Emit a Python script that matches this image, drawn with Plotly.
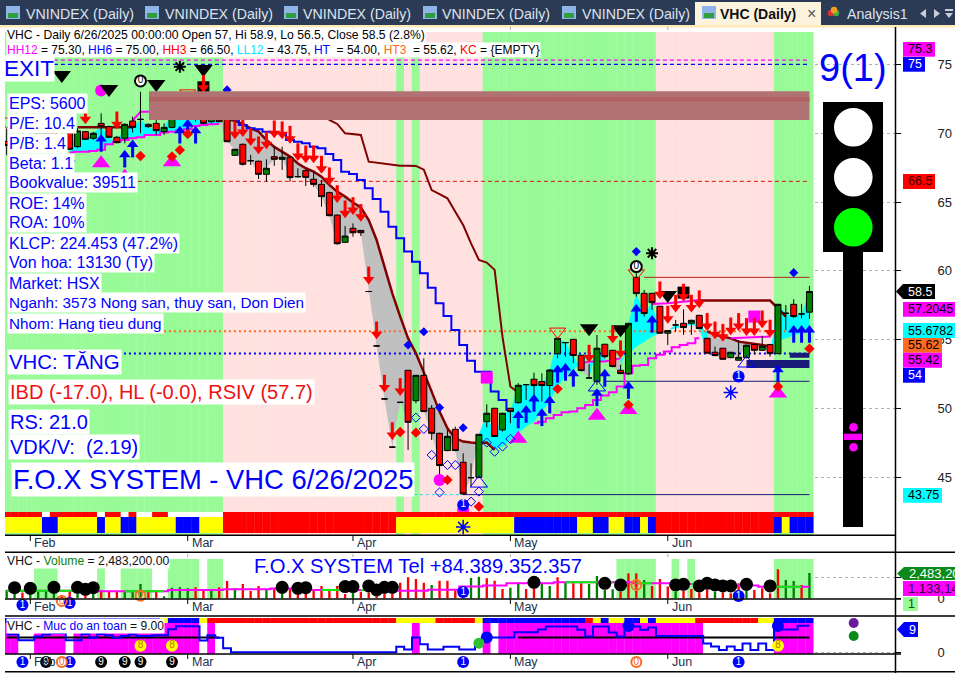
import plotly.graph_objects as go

W, H = 955, 673
def X(px): return px / W
def Y(py): return 1 - py / H

# ---------- data ----------
opens = [69.4,69.2,69.7,69.3,69.5,69.6,70.3,69.9,70.04,69.02,70.11,69.63,70.71,70.47,69.7,69.63,70.88,71.0,70.64,70.71,70.11,70.42,71.44,72.31,72.31,72.1,70.83,71.15,
 71.0,68.39,69.19,68.0,67.96,67.01,68.29,68.1,68.25,66.84,67.28,66.65,66.28,65.68,64.05,62.07,63.09,62.94,58.5,54.55,50.7,47.2,50.45,52.78,50.57,52.41,50.02,48.2,46.95,48.49,46.1,44.98,45.0,
 49.05,50.02,48.45,50.02,50.43,51.74,52.13,51.96,51.67,53.99,54.79,55.03,53.87,52.22,51.96,54.67,54.23,52.78,52.52,59.53,58.37,58.37,57.43,55.47,56.07,56.19,56.19,56.77,55.1,54.09,54.38,53.7,53.51,53.7,54.65,54.23,54.65,53.99,56.92,57.57,56.87,57.0]
highs = [70.3,69.9,70.1,70.0,70.4,70.5,70.6,70.2,70.11,70.35,70.15,70.1,71.44,70.55,69.8,70.71,71.2,73.0,70.7,70.96,70.71,71.93,72.29,72.53,72.41,72.15,71.44,71.2,
 71.1,68.85,69.25,68.42,68.0,68.1,69.02,69.02,68.3,67.45,67.35,67.2,66.6,65.75,64.1,63.26,63.45,62.95,58.55,54.6,50.75,47.25,50.5,52.8,52.45,53.65,50.26,48.25,48.44,48.69,46.75,46.02,48.15,
 50.31,50.05,49.7,50.05,51.84,51.78,52.61,52.56,52.85,55.15,54.82,55.05,53.9,53.22,55.35,54.7,54.25,53.17,56.2,59.94,58.61,58.4,57.45,55.7,56.44,57.21,56.45,56.8,55.15,54.5,54.4,54.1,54.98,54.65,54.7,55.27,54.7,57.6,57.52,57.94,57.6,58.9]
lows = [68.4,68.9,69.0,69.0,69.3,69.4,69.4,69.1,68.78,68.9,69.5,69.5,69.63,69.65,69.26,69.26,70.04,69.99,70.4,69.87,69.87,70.35,71.2,72.1,70.83,70.65,70.71,70.8,
 69.35,68.35,67.64,67.69,66.67,66.48,67.62,67.33,66.48,66.77,66.16,66.11,64.66,63.95,61.9,62.05,62.48,62.53,58.45,54.5,50.65,47.15,50.4,46.99,50.38,49.75,47.72,45.06,46.9,46.9,43.75,44.33,44.93,
 48.64,47.95,48.33,48.93,50.34,50.63,50.51,50.51,50.87,53.65,53.77,53.29,52.7,52.2,51.72,53.65,53.0,52.5,52.44,58.13,56.68,57.16,55.45,54.62,55.59,55.35,55.35,55.75,54.0,53.8,53.53,53.65,53.5,53.65,53.94,54.2,53.77,53.95,55.71,56.56,56.56,56.5]
closes = [69.1,69.7,69.3,69.8,70.1,70.2,69.6,69.4,68.83,70.16,69.55,69.99,70.47,69.7,69.31,70.64,70.42,71.0,70.47,70.18,70.42,71.44,71.93,72.31,72.1,70.71,71.15,70.83,
 69.38,68.83,67.74,68.0,67.01,67.45,68.1,68.25,66.77,66.84,66.79,66.28,65.39,64.01,61.97,62.53,62.77,62.77,58.5,54.55,50.7,47.2,50.45,49.0,52.41,49.78,48.2,45.86,47.98,46.95,43.8,44.98,48.13,
 49.66,47.97,49.66,49.78,51.69,51.74,51.67,51.67,52.8,55.1,54.79,53.85,52.76,52.22,54.38,53.77,53.05,52.54,56.19,58.35,56.9,57.69,55.47,55.66,56.07,55.88,56.41,55.81,54.02,53.85,53.58,54.09,53.73,54.6,54.23,54.52,53.99,57.57,56.92,56.68,56.87,58.5]
volumes_k = [818,490,556,490,654,719,654,327,654,490,327,490,818,654,654,719,719,1406,654,752,100,1046,1079,981,1079,752,752,1079,1700,981,1406,719,1210,883,981,818,948,490,490,818,1210,916,1210,425,556,654,556,164,490,490,1537,2060,1897,1537,1308,1733,1733,818,1145,1995,2126,1962,1733,916,1046,1570,916,981,1472,1210,2060,1570,1472,1472,1406,2191,818,883,654,2453,2453,1799,1210,1897,1145,654,752,916,556,818,654,556,490,1472,818,818,981,490,2845,1799,1701,1308,2483.2]
vol_colors = list("ggrgggg" "rrgrgrrrgggrrgggg" "rrgrrgrrrgrgrrrrrrrrg" "rrrrrr" "rrrgrrrrggrrrggrrggrgrrggggrrrg" "rrrgrrrrgrrrgrrrrggrgrgrrrrgr")
avg_vol_k = [752,752,752,752,752,752,752,752,752,752,752,752,687,687,687,687,687,687,687,687,687,818,818,818,818,818,818,818,883,883,883,883,883,883,950,950,950,950,950,818,818,818,818,818,818,818,818,818,818,818,752,752,752,752,850,850,850,850,1145,1145,1145,1250,1250,1250,1472,1472,1472,1472,1472,1472,1570,1570,1570,1570,1570,1570,1570,1570,1570,1570,1472,1472,1472,1472,1472,1400,1400,1400,1400,1400,1400,1250,1250,1250,1250,1250,1133,1133,1133,1133,1133,1133,1133]
avg_green_runs = [(0,11),(15,20),(40,43),(45,46),(71,75),(76,77),(80,82),(85,86),(87,88),(97,101)]
safety = [6,6,4.1,4.1,5.3,6,6.5,6.5,4.1,4.1,6.2,4.9,6.2,5.8,4.9,5.5,6,5.5,5.5,5.8,5.8,7.8,8.8,8.8,8.8,4,5.8,4.9,1.4,0,0,0,0,0,0,0,0,0,0,0,0,0,0,0,0,0,0,0,0,0,1.85,.95,5,2.75,.95,.95,1.85,1.85,.95,.95,3,5,5,5,5,6.8,6.8,6.8,7.7,8.7,8.7,8.7,8.7,7.6,5.3,8.7,8.7,6.7,5.3,8.7,8.7,7.6,8.4,5.5,5.5,5.5,5.5,5.5,5.5,3,2,.8,2,.8,3,.8,3,.8,7.7,7.7,7.7,9,9]

fast_start = 8
fast = [68.6,68.65,68.65,68.7,68.8,69.2,69.38,69.5,69.63,69.7,69.87,69.87,70.04,70.11,70.18,70.28,70.52,70.6,70.64,70.67,71.0,70.9,70.67,70.35,70.11,69.5,69.0,68.66,68.3,67.8,67.45,67.2,66.84,66.24,65.75,65.39,64.96,64.6,63.69,62.24,60.3,58.37,56.67,55.1,54.01,52.68,51.23,49.78,48.57,47.84,47.6,47.53,47.48,47.53,47.0,47.24,47.72,48.21,48.69,49.05,49.78,50.51,51.6,52.32,52.81,53.29,53.41,53.41,53.41,53.53,53.65,53.9,54.5,54.86,55.23,55.47,55.71,55.83,55.95,56.07,55.95,55.6,55.35,55.23,55.1,54.86,54.79,54.74,54.62,54.5,54.9,55.1,55.3,55.5,55.68]
slow_a_start = 39
slow_a = [72.5,71.8,70.96,70.67,69.99,69.92,69.87,67.93,67.86,67.76,67.69,67.64,67.64,67.62,67.35,65.87,65.58,65.27,64.3,63.33,62.0,60.79,60.6,60.07,55.2,51.6,51.15]
slow_b_start = 88
slow_b = [57.84,57.84,57.84,57.84,57.84,57.84,57.84,57.84,57.84,57.84,57.28,56.68]
slow_c_start = 82
slow_c = [57.6,57.6,57.65,57.7,57.75,57.8,57.88]
mag2_start = 67
mag2 = [48.93,49.05,49.3,49.54,49.73,49.78,50.02,50.26,50.63,50.94,51.18,51.6,52.56,53.1,53.17,53.65,53.9,54.14,54.45,54.62,54.74,55.1]
mag3_start = 92
mag3 = [55.1,55.12,55.15,55.18,55.2,55.23]
mid_start = 9
mid = [70.42]*8
mid_mag_start = 16
mid_mag = [70.9,71.56,71.56,71.56]
blue_start = 29
blue_step = [71.0,70.6,70.35,70.28,70.11,70.05,69.99,69.5,69.38,69.26,69.02,68.9,68.49,68.05,67.2,67.04,66.6,65.99,65.22,64.3,63.21,62.37,61.4,60.67,59.82,58.78,57.64,56.72,55.7,54.62,53.48,52.68,52.68,51.23,50.62,49.9]

regime_runs = [("g",28),("p",22),("g",1),("p",1),("g",1),("p",8),("g",22),("p",15),("g",5)]
strip_top_runs = [("r",5),("w",1),("r",6),("w",1),("r",2),("w",1),("r",1),("w",2),("r",2),("w",7),("r",75)]
strip_bot_runs = [("y",5),("b",2),("y",5),("b",1),("y",2),("b",2),("y",5),("b",3),("y",3),("r",22),("y",15),("b",8),("y",2),("b",2),("y",2),("b",2),("y",1),("b",1),("r",15),("b",1),("y",1),("b",3)]
safety_strip_runs = [("b",20),("y",1),("b",4),("y",1),("r",24),("y",5),("r",5),("y",1),("b",13),("r",1),("y",1),("b",1),("y",2),("b",2),("y",1),("b",1),("y",5),("r",8),("y",2),("b",5)]
safety_bg_runs = [("m",2),("w",2),("m",4),("w",1),("m",16),("w",1),("m",1),("w",25),("m",1),("w",8),("m",1),("w",1),("m",26),("w",9),("m",5)]
vol_bg_runs = [("w",4),("g",3),("w",5),("g",1),("w",2),("g",4),("w",2),("g",4),("w",1),("g",2),("w",50),("g",5),("w",2),("g",1),("w",1),("g",1),("w",10),("g",5)]

dn_idx = [10,14,25,29,30,31,32,33,34,35,36,37,38,39,40,41,42,43,44,45,46,47,48,49,50,74,77,78,83,84,85,86,87,88,89,90,91,92,93,94,95,96,97]
dn_tip = [70.71,70.35,73.0,69.63,69.8,69.14,68.54,68.9,69.7,69.63,69.31,68.05,67.88,67.88,67.13,66.29,65.0,63.89,64.13,63.63,59.09,55.1,51.23,47.79,50.99,53.41,54.79,53.73,58.01,56.24,57.04,57.84,57.04,57.36,55.71,55.1,54.93,55.39,55.71,55.35,55.35,55.9,55.23]
up_idx = [8,12,15,16,22,23,24,65,66,67,68,69,70,71,72,75,76,79,80,82,98,100,101,102]
up_tip = [68.42,69.87,68.73,69.46,70.47,70.96,70.47,49.78,50.19,50.99,49.95,50.87,53.1,53.24,52.81,51.4,52.81,51.93,57.52,56.73,53.1,56.0,56.0,56.0]
blk_tri_idx = [7,13,19,25,74,78,84]
blk_tri_y = [74.22,73.2,73.57,74.66,55.83,55.76,58.25]
blk_sq_idx = [25,86]
blk_sq_y = [73.33,58.42]
mag_dot_idx = [12,55,58]
mag_dot_y = [73.09,44.82,42.64]
mag_sq_idx = [61,95]
mag_sq_y = [52.25,56.68]
mag_tri_idx = [12,21,65,75,79,98,15]
mag_tri_y = [67.81,67.88,47.8,49.47,49.9,51.1,66.84]
red_d_idx = [17,21,22,23,50,52,56,60,59,70,79,98,102]
red_d_y = [68.34,68.3,68.78,69.94,48.3,48.25,44.82,42.88,42.15,51.43,50.27,51.6,54.35]
blue_d_idx = [28,51,53,55,58,80,100]
blue_d_y = [73.14,54.62,55.58,50.07,48.61,61.4,59.87]
open_d_idx = [52,53,54,56,57,55,59,60,61,62,63,64]
open_d_y = [49.34,48.52,46.63,45.9,45.9,43.91,43.24,43.97,47.53,46.87,47.24,47.79]
star_idx = [22,82]
star_y = [74.83,61.28]
zero_idx = [17,80]
zero_y = [73.79,60.31]
red_open_idx = [70,80,23,0]
red_open_y = [55.59,59.82,72.89,70.84]
blue_open_idx = [75,94,60]
blue_open_y = [51.55,53.29,44.57]
one_idx = [58,93]
one_y = [43.0,52.32]
snow_idx = [92]
snow_y = [51.16]

vdot_idx = [1,3,6,9,10,11,35,37,38,43,44,46,47,48,49,67,76,78,85,86,88,89,90,91,92,94,97]
vdot_lvl = [1046,981,1079,1079,883,1046,1079,981,1046,1145,1145,1210,818,1079,1079,1570,1472,1308,1308,1373,1210,1472,1308,1210,1210,1373,1210]
v_one_idx = [2,8,58,93]
v_zero_idx = [7,17,80]
s_one_idx = [2,8,58,93]
s_zero_idx = [7,80]
s_nine_idx = [5,12,15,17,21]
s_eight_idx = [17,21,98]
s_blue_idx = [61,79,98]
s_blue_y = [5,8.9,8.9]
s_green_idx = [60]
s_green_y = [3.1]
eight_row = 2.2
strip_snow_idx = [58]

month_names = ["Feb","Mar","Apr","May","Jun"]
month_idx = [3,23,44,64,84]
price_ticks = [45,50,55,60,65,70,75]

HH12, HH6, HH3, LL12, HT = 75.3, 75.0, 66.5, 43.75, 54.0
HT3, UP_LEVEL, DN_LEVEL = 55.62, 59.53, 51.98

# ---------- scales ----------
BAR0, STEP = 6.7, 7.87
n = len(closes)
idx = list(range(n))
def ix(px): return (px - BAR0) / STEP
PR_TOP, PR_BOT = 75 + (64.3 - 32) * .07262, 75 - (535 - 64.3) * .07262
VOL_TOP, VOL_BOT = 4515, -70
SF_TOP, SF_BOT = 12.26, -0.57

def expand(runs, pal): return [pal[c] for c, k in runs for _ in range(k)]

GREEN, PINK = "#98FB98", "#FFE2DF"
RED, BLUE, YEL, MAG, CYAN = "#FF0000", "#0000FF", "#FFFF00", "#FF00FF", "#00FFFF"
DRED, NAVY = "#800000", "#1A1A7A"
pal = dict(g=GREEN, p=PINK, r=RED, w="#FFFFFF", y=YEL, b=BLUE, m=MAG)

fig = go.Figure()
common = dict(hoverinfo="skip", showlegend=False)

def bars(y, base, color, yaxis, width=1.04, x=None):
    fig.add_trace(go.Bar(x=x if x is not None else idx, y=y, base=base, width=width,
                         marker=dict(color=color, line=dict(width=0)), yaxis=yaxis, **common))

def line(x, y, color, w=2, yaxis="y", shape="linear", dash=None):
    fig.add_trace(go.Scatter(x=x, y=y, mode="lines", yaxis=yaxis,
                             line=dict(color=color, width=w, shape=shape, dash=dash), **common))

def marks(x, y, sym, size, color, yaxis="y3", lw=0, lc=None, text=None, tc="white", ts=10):
    fig.add_trace(go.Scatter(x=x, y=y, mode="markers+text" if text else "markers", yaxis=yaxis,
                             marker=dict(symbol=sym, size=size, color=color, line=dict(width=lw, color=lc or color)),
                             text=[text] * len(x) if text else None, textposition="middle center",
                             textfont=dict(color=tc, size=ts, family="Liberation Sans"), **common))

# background bands
bars([PR_TOP - PR_BOT] * n, [PR_BOT] * n, expand(regime_runs, pal), "y")

# color strips
bars([16 / 21] * n, [0] * n, expand(strip_bot_runs, pal), "y4")
bars([5 / 21] * n, [16 / 21] * n, expand(strip_top_runs, pal), "y4")

# gray / cyan fills between close and the fast line
def fill(a, b, color):
    xs = list(range(a, b + 1))
    up = [closes[i] for i in xs]
    lo = [fast[i - fast_start] for i in xs]
    fig.add_trace(go.Scatter(x=xs + xs[::-1], y=up + lo[::-1], mode="lines", fill="toself",
                             fillcolor=color, line=dict(width=0), yaxis="y", **common))
for a, b in [(8,27),(60,73),(74,76),(78,89),(97,102)]:
    fill(a, b, CYAN)
for a, b in [(27,60),(73,74),(76,78),(89,97)]:
    fill(a, b, "#C0C0C0")

# level lines
rng = [6, 102]
line(rng, [HH12, HH12], MAG, 1.2, dash="4px,3px")
line(rng, [HH6, HH6], BLUE, 1.2, dash="4px,3px")
line(rng, [HH3, HH3], "#E01010", 1, dash="4px,3px")
line(rng, [HT3, HT3], "#FF6A20", 2, dash="2px,3px")
line(rng, [HT, HT], BLUE, 2, dash="2px,3px")
line([6, 58], [LL12, LL12], "#30D8E8", 1, dash="3px,3px")
line([58, 102], [LL12, LL12], NAVY, 1)
line([81, 102], [UP_LEVEL, UP_LEVEL], "#B22222", 1)
line([76, 102], [DN_LEVEL, DN_LEVEL], NAVY, 1)
line([99.5, 102], [53.87, 53.87], NAVY, 5)
line([94, 102], [53.24, 53.24], NAVY, 8)

# moving lines
fx = list(range(fast_start, n))
line(fx[:20], fast[:20], MAG, 2, shape="hvh")
line(fx[20:55], fast[20:55], DRED, 2.5)
line(fx[65:71], fast[65:71], MAG, 2)
line(fx[81:90], fast[81:90], DRED, 2.5)
line(list(range(mag2_start, mag2_start + len(mag2))), mag2, MAG, 2, shape="hvh")
line(list(range(mag3_start, mag3_start + len(mag3))), mag3, MAG, 2)
line(list(range(slow_a_start, slow_a_start + len(slow_a))), slow_a, DRED, 2)
line(list(range(slow_b_start, slow_b_start + len(slow_b))), slow_b, DRED, 2.5)
line(list(range(slow_c_start, slow_c_start + len(slow_c))), slow_c, MAG, 2)
line(list(range(mid_start, mid_start + len(mid))), mid, DRED, 2.5)
line(list(range(mid_mag_start, mid_mag_start + len(mid_mag))), mid_mag, MAG, 2)
line(list(range(blue_start, blue_start + len(blue_step))), blue_step, BLUE, 2, shape="hvh")

# candles
fig.add_trace(go.Candlestick(x=idx, open=opens, high=highs, low=lows, close=closes, yaxis="y2", whiskerwidth=0,
    increasing=dict(line=dict(color="black", width=1), fillcolor="#008000"),
    decreasing=dict(line=dict(color="black", width=1), fillcolor=RED), hoverinfo="skip", showlegend=False))

# signals drawn under the arrows
marks(blk_sq_idx, blk_sq_y, "square", 12, "black")
marks(mag_tri_idx, mag_tri_y, "triangle-up", 16, MAG)
marks(mag_dot_idx, mag_dot_y, "circle", 12, MAG)
marks(mag_sq_idx, mag_sq_y, "square", 12, MAG)
marks(blk_tri_idx, blk_tri_y, "triangle-down", 16, "black")
# arrows
PP = .07262
marks(dn_idx, [p + 4 * PP for p in dn_tip], "triangle-down", 10, RED)
marks(dn_idx, [p + 10.5 * PP for p in dn_tip], "line-ns", 9, RED, lw=3, lc=RED)
marks(up_idx, [p - 4 * PP for p in up_tip], "triangle-up", 10, BLUE)
marks(up_idx, [p - 10.5 * PP for p in up_tip], "line-ns", 9, BLUE, lw=3, lc=BLUE)
marks(red_d_idx, red_d_y, "diamond", 8, RED)
marks(blue_d_idx, blue_d_y, "diamond", 7, BLUE)
marks(open_d_idx, open_d_y, "diamond-open", 7, BLUE, lw=1)
marks(star_idx, star_y, "asterisk-open", 10, "black", lw=2)
marks(red_open_idx, red_open_y, "triangle-down-open", 14, RED, lw=1)
marks(blue_open_idx, blue_open_y, "triangle-up-open", 15, BLUE, lw=1)
marks(zero_idx, zero_y, "circle", 11, "white", lw=2, lc="black", text="0", tc="black")
marks(one_idx, one_y, "circle", 12, BLUE, text="1")
marks(snow_idx, snow_y, "asterisk-open", 12, BLUE, lw=1.5)

# volume panel
bars([VOL_TOP * .855] * n, [0] * n, expand(vol_bg_runs, pal), "y5")
bars(volumes_k, [0] * n, ["#008000" if c == "g" else RED for c in vol_colors], "y5", width=.3)
line(idx, avg_vol_k, MAG, 2, yaxis="y5", shape="hvh")
for a, b in avg_green_runs:
    line(list(range(a, b + 1)), avg_vol_k[a:b + 1], "#00F000", 2, yaxis="y5", shape="hvh")
marks(vdot_idx, vdot_lvl, "circle", 13, "black", yaxis="y5")

# safety panel
bars([9.9 - SF_BOT] * n, [SF_BOT] * n, expand(safety_bg_runs, pal), "y6")
bars([1.69] * n, [9.9] * n, expand(safety_strip_runs, pal), "y6")
line([0, 27], [5, 5], "black", 2, yaxis="y6")
line([65, 102], [5, 5], "black", 2, yaxis="y6")
line(idx, safety, BLUE, 2, yaxis="y6", shape="hvh")
marks(s_blue_idx, s_blue_y, "circle", 12, BLUE, yaxis="y6")
marks(s_green_idx, s_green_y, "circle", 11, "#30C030", yaxis="y6")
marks(s_eight_idx, [eight_row] * len(s_eight_idx), "circle", 12, YEL, yaxis="y6", text="8", tc="#C07000")

# event badges on the page-wide row axis (y7 counts pixel rows down the window)
ROW_VOL_ONE = [605, 603, 592, 596]
ROW_VOL_ZERO = [601, 595.7, 585]
ROW_LABELS, ROW_STRIP = 662, 527
marks(v_one_idx, ROW_VOL_ONE, "circle", 12, BLUE, yaxis="y7", text="1")
marks(v_zero_idx, ROW_VOL_ZERO, "circle", 10, "rgba(255,255,255,0)", yaxis="y7", lw=2, lc="#FF6A20", text="0", tc="#FF6A20")
marks(s_nine_idx, [ROW_LABELS] * len(s_nine_idx), "circle", 12, "black", yaxis="y7", text="9")
marks(s_one_idx, [ROW_LABELS] * len(s_one_idx), "circle", 12, BLUE, yaxis="y7", text="1")
marks(s_zero_idx, [ROW_LABELS] * len(s_zero_idx), "circle", 10, "white", yaxis="y7", lw=2, lc="#FF6A20", text="0", tc="#FF6A20")
marks(strip_snow_idx, [ROW_STRIP], "asterisk-open", 12, BLUE, yaxis="y7", lw=1.5)

# ---------- decoration ----------
shapes, ann = [], []
def rect(x0, y0, x1, y1, fill, layer="above"):
    shapes.append(dict(type="rect", xref="paper", yref="paper", x0=X(x0), x1=X(x1), y0=Y(y0), y1=Y(y1),
                       fillcolor=fill, line=dict(width=0), layer=layer))
def circ(cx, cy, r, fill):
    shapes.append(dict(type="circle", xref="paper", yref="paper", x0=X(cx - r), x1=X(cx + r), y0=Y(cy - r), y1=Y(cy + r),
                       fillcolor=fill, line=dict(width=0), layer="above"))
def hl(x0, x1, y, c="black", w=1.5):
    shapes.append(dict(type="line", xref="paper", yref="paper", x0=X(x0), x1=X(x1), y0=Y(y), y1=Y(y), line=dict(color=c, width=w), layer="above"))
def poly(pts, fill):
    d = "M" + " L".join(f"{X(a):.5f},{Y(b):.5f}" for a, b in pts) + " Z"
    shapes.append(dict(type="path", xref="paper", yref="paper", path=d, fillcolor=fill, line=dict(width=0), layer="above"))
def txt(x, y, s, size=16, color=BLUE, bg=None, anchor="left", bold=False, pad=0):
    ann.append(dict(xref="paper", yref="paper", x=X(x), y=Y(y), text=f"<b>{s}</b>" if bold else s, showarrow=False,
                    xanchor=anchor, yanchor="middle", align="left", bgcolor=bg, borderpad=pad,
                    font=dict(family="Liberation Sans", size=size, color=color)))

# tab bar
rect(0, 0, 955, 25, "#2B3A55")
rect(0, 25, 955, 27.5, "#FFE9B4")
rect(695, 2, 821, 25, "#FBF3DC")
for x0, x1 in [(145, 159), (284, 298), (423, 437), (562, 576), (702, 716), (6, 20)]:
    rect(x0, 6, x1, 19, "#8FB4E8")
    rect(x0 + 2, 13, x1 - 2, 18, "#2E9E3E")
for xt in [25, 164, 302, 441, 581]:
    txt(xt, 14, "VNINDEX (Daily)", 14.2, "#DDE3EE")
txt(719, 14, "VHC (Daily)", 14, "#101010", bold=True)
txt(811, 13, "×", 16, "#555555", anchor="center")
for cx, c in [(831, "#E03030"), (836, "#40B040"), (834, "#F0A020")]:
    circ(cx, 13 if c != "#F0A020" else 10, 3.2, c)
txt(846, 14, "Analysis1", 14.2, "#DDE3EE")
poly([(926, 9), (926, 18), (920, 13.5)], "#C8CEDA")
poly([(934, 9), (934, 18), (940, 13.5)], "#C8CEDA")
rect(945, 9, 953, 11, "#C8CEDA")
poly([(945, 13), (953, 13), (949, 18)], "#C8CEDA")

# resistance band
shapes.append(dict(type="rect", xref="x", yref="y", x0=ix(149), x1=102, y0=70.95, y1=73.05, fillcolor="#B07272", line=dict(width=0), layer="above"))
shapes.append(dict(type="rect", xref="x", yref="y", x0=ix(149), x1=102, y0=72.3, y1=72.62, fillcolor="#B06060", line=dict(width=0), layer="above"))

# panel frame
for y, x1 in [(535.3, 895), (552.3, 955), (599, 901), (616, 955), (654, 901), (671.7, 955)]:
    hl(5, x1, y)
shapes.append(dict(type="line", xref="paper", yref="paper", x0=X(895.5), x1=X(895.5), y0=Y(27), y1=Y(673), line=dict(color="black", width=1.5), layer="above"))

# month ticks and labels
for m, i in zip(month_names, month_idx):
    for y0, y1, yl in [(535.3, 541, 543), (599, 604, 607), (654, 659, 662)]:
        shapes.append(dict(type="line", xref="x", yref="paper", x0=i, x1=i, y0=Y(y0), y1=Y(y1), line=dict(color="black", width=1), layer="above"))
        ann.append(dict(xref="x", yref="paper", x=i, y=Y(yl), xshift=2, text=m, showarrow=False, xanchor="left", yanchor="middle",
                        font=dict(family="Liberation Sans", size=12.5, color="#20304A")))
    for y0, y1 in [(27, 32), (554, 559)]:
        shapes.append(dict(type="line", xref="x", yref="paper", x0=i, x1=i, y0=Y(y0), y1=Y(y1), line=dict(color="#AAAAAA", width=1, dash="dot"), layer="above"))

# traffic light
rect(823, 102, 883, 252, "black")
rect(843, 252, 863, 527, "black")
circ(853.3, 127.3, 19.3, "white")
circ(853.3, 177.3, 19.3, "white")
circ(853.3, 227.3, 19.3, "#00FF00")
circ(853.5, 427.3, 4.3, MAG)
circ(853.5, 447.3, 4.3, MAG)
rect(843.7, 433.7, 862, 440, MAG)
circ(853.7, 623, 5, "#6A1B9A")
circ(853.7, 636, 5, "#0A8A1A")
txt(853, 68, "9(1)", 38, BLUE, anchor="center")

# headers
txt(6, 35, "VHC - Daily 6/26/2025 00:00:00 Open 57, Hi 58.9, Lo 56.5, Close 58.5 (2.8%)", 12.15, "black", bg="white")
hdr = ('<span style="color:#FF00FF">HH12</span> = 75.30, <span style="color:#0000FF">HH6</span> = 75.00, '
       '<span style="color:#FF0000">HH3</span> = 66.50, <span style="color:#00E5FF">LL12</span> = 43.75, '
       '<span style="color:#0000FF">HT</span>\u00a0 = 54.00, <span style="color:#FF6A20">HT3</span>\u00a0 = 55.62, '
       '<span style="color:#FF0000">KC</span> = {EMPTY}')
txt(6, 50, hdr, 12, "black", bg="white")
txt(3, 69, "EXIT", 22.5, BLUE, bg="white")
info = ["EPS: 5600","P/E: 10.4","P/B: 1.4","Beta: 1.1","Bookvalue: 39511","ROE: 14%","ROA: 10%","KLCP: 224.453 (47.2%)",
        "Von hoa: 13130 (Ty)","Market: HSX","Nganh: 3573 Nong san, thuy san, Don Dien","Nhom: Hang tieu dung"]
for k, s in enumerate(info):
    txt(7, 103 + 20 * k, s, 16 if k < 10 else 15.25, BLUE, bg="white", pad=1)
txt(7, 362, "VHC: TĂNG", 20.4, BLUE, bg="white", pad=1)
txt(8, 392, "IBD (-17.0), HL (-0.0), RSIV (57.7)", 20, "#EE1111", bg="white", pad=1)
txt(8, 422, "RS: 21.0", 20, BLUE, bg="white", pad=1)
txt(8, 447, "VDK/V:  (2.19)", 20, BLUE, bg="white", pad=1)
txt(11, 479, "F.O.X SYSTEM - VHC 6/26/2025", 27.4, BLUE, bg="white", pad=1)
txt(6, 561, 'VHC - <span style="color:#108010">Volume</span> = 2,483,200.00', 12.2, "#101010", bg="white")
txt(253, 566, "F.O.X SYSTEM Tel +84.389.352.357", 20.2, BLUE)
txt(6, 626, 'VHC - <span style="color:#0000FF">Muc do an toan</span> = 9.00', 12.1, "#101010", bg="white")

# right-hand value tags
def tag(x0, x1, y0, y1, s, fill, color="black", arrow=False, size=12.5):
    if arrow:
        poly([(x0, (y0 + y1) / 2), (x0 + 7, y0), (x1, y0), (x1, y1), (x0 + 7, y1)], fill)
        txt(x0 + 11, (y0 + y1) / 2, s, size, color)
    else:
        rect(x0, y0, x1, y1, fill)
        txt(x0 + 4, (y0 + y1) / 2, s, size, color)
tag(903, 935, 42, 56.7, "75.3", MAG)
tag(903, 925, 57, 71.7, "75", BLUE, "white")
tag(903, 935, 174, 189, "66.5", RED, "#400000")
tag(896, 935, 284, 299, "58.5", "black", "white", arrow=True)
tag(903, 955, 302, 316.7, "57.2045", MAG)
tag(903, 955, 323, 338, "55.6782", CYAN)
tag(903, 942, 338, 352.7, "55.62", "#FF6A20")
tag(903, 942, 352.7, 367.7, "55.42", MAG)
tag(903, 925, 368, 382.7, "54", BLUE, "white")
tag(903, 942, 488, 502.7, "43.75", CYAN)
tag(897, 955, 567, 580, "2,483,200", "#0A8A1A", "white", arrow=True, size=13)
tag(903, 955, 581, 596, "1,133,140", MAG, "#300030", size=13)
tag(903, 918, 597, 611, "1", GREEN, "#105010")
tag(897, 918, 622, 637, "9", BLUE, "white", arrow=True)

# ---------- axes ----------
def hidden(domain, rng, **kw):
    return dict(domain=domain, range=rng, visible=False, fixedrange=True, **kw)
def shown(domain, rng, vals, text):
    return dict(domain=domain, range=rng, side="right", anchor="x", tickmode="array", tickvals=vals, ticktext=text,
                ticks="outside", ticklen=5, tickcolor="black", ticklabelstandoff=34, showline=False, zeroline=False,
                showgrid=True, griddash="dot", gridcolor="#B0B0B0", gridwidth=1, automargin=False,
                tickfont=dict(family="Liberation Sans", size=13, color="#202020"), fixedrange=True)

main_dom = [Y(535), Y(32)]
fig.update_layout(
    width=W, height=H, autosize=False, margin=dict(l=0, r=0, t=0, b=0, pad=0, autoexpand=False), paper_bgcolor="white", plot_bgcolor="rgba(0,0,0,0)",
    barmode="overlay", boxgap=.13, boxgroupgap=.13, showlegend=False, shapes=shapes, annotations=ann, hovermode=False,
    xaxis=dict(domain=[X(5), X(895)], range=[ix(5), ix(895)], visible=False, rangeslider=dict(visible=False), fixedrange=True),
    yaxis=shown(main_dom, [PR_BOT, PR_TOP], price_ticks, [str(t) for t in price_ticks]),
    yaxis2=hidden(main_dom, [PR_BOT, PR_TOP], overlaying="y", anchor="x"),
    yaxis3=hidden(main_dom, [PR_BOT, PR_TOP], overlaying="y", anchor="x"),
    yaxis4=hidden([Y(533), Y(512)], [0, 1], anchor="x"),
    yaxis5=shown([Y(599), Y(552.3)], [VOL_BOT, VOL_TOP], [0, 2000], ["0", ""]),
    yaxis6=shown([Y(654), Y(616)], [SF_BOT, SF_TOP], [0], ["0"]),
    yaxis7=hidden([0, 1], [H, 0], anchor="x"),
)
fig.write_html("out.html", config=dict(displayModeBar=False),
               post_script="document.body.style.margin='0';document.body.style.overflow='hidden';")
